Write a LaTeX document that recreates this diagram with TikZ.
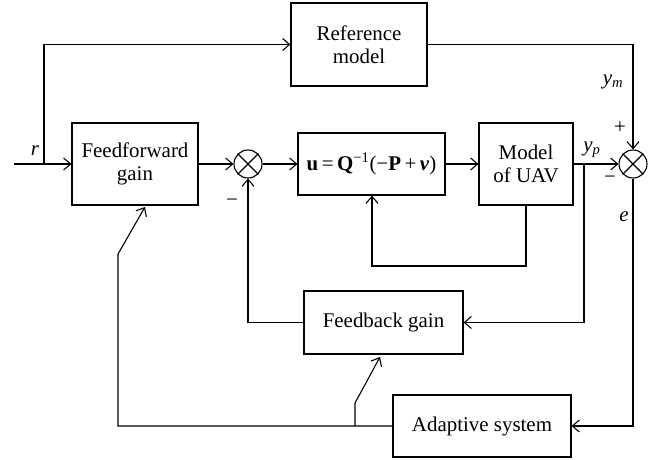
\documentclass[tikz,border=0pt]{standalone}
\usepackage{fontspec}
\setmainfont{Liberation Serif}
\usetikzlibrary{arrows.meta}
\begin{document}
\begin{tikzpicture}[x=1bp,y=-1bp,
  line width=1.1bp,
  >={Straight Barb[length=7bp,width=12bp]},
  every node/.style={font=\fontsize{21}{23}\selectfont},
  box/.style={draw,align=center,inner sep=0pt},
  sumj/.style={draw,circle,minimum size=28bp,inner sep=0pt},
  lbl/.style={inner sep=0pt}]
\useasboundingbox (0,0) rectangle (657,460);
% blocks
\node[box,minimum width=136bp,minimum height=83bp] (ref) at (359,44.5) {Reference\\model};
\node[box,minimum width=126bp,minimum height=82bp] (ff) at (135,164) {Feedforward\\gain};
\node[sumj] (s1) at (248,164) {};
\node[box,minimum width=147bp,minimum height=62bp] (u) at (371.5,164)
  {\textbf{u}\,=\,\textbf{Q}\textsuperscript{−1}(−\textbf{P}\,+\,\textbf{\textit{ν}})};
\node[box,minimum width=94bp,minimum height=82bp] (uav) at (526,164) {Model\\of UAV};
\node[sumj] (s2) at (633,164) {};
\node[box,minimum width=159bp,minimum height=63bp] (fb) at (383.5,322.5) {Feedback gain};
\node[box,minimum width=178bp,minimum height=62bp] (ad) at (482,426) {Adaptive system};
% crosses
\draw (s1.north west) -- (s1.south east) (s1.north east) -- (s1.south west);
\draw (s2.north west) -- (s2.south east) (s2.north east) -- (s2.south west);
% coordinates
\coordinate (in) at (14,164);
\coordinate (br) at (44,164);
\coordinate (il) at (372,266);
\coordinate (tp) at (584,164);
\coordinate (a1) at (118,426);
\coordinate (a2) at (118,254);
\coordinate (a3) at (145,207);
\coordinate (b1) at (355,426);
\coordinate (b2) at (355,403);
\coordinate (b3) at (380,357);
% connectors
\draw[->] (in) -- (ff.west);
\draw[->] (br) |- (ref.west);
\draw[->] (ff.east) -- (s1.west);
\draw[->] (s1.east) -- (u.west);
\draw[->] (u.east) -- (uav.west);
\draw[->] (uav.east) -- (s2.west);
\draw[->] (ref.east) -| (s2.north);
\draw[->] (uav.south) |- (il) -- (il |- u.south);
\draw[->] (tp) |- (fb.east);
\draw[->] (fb.west) -| (s1.south);
\draw[->] (s2.south) |- (ad.east);
\draw[->] (ad.west) -- (a1) -- (a2) -- (a3);
\draw[->] (b1) -- (b2) -- (b3);
% labels
\node[lbl] (lr) at (35,151) {\textit{r}};
\node[lbl] (lym) at (613,82) {\textit{y}\textsubscript{\textit{m}}};
\node[lbl] (lyp) at (592,150) {\textit{y}\textsubscript{\textit{p}}};
\node[lbl] (lplus) at (620,128) {+};
\node[lbl] (lmin2) at (610,180) {−};
\node[lbl] (lmin1) at (232,203) {−};
\node[lbl] (le) at (624,217) {\textit{e}};
\end{tikzpicture}
\end{document}
